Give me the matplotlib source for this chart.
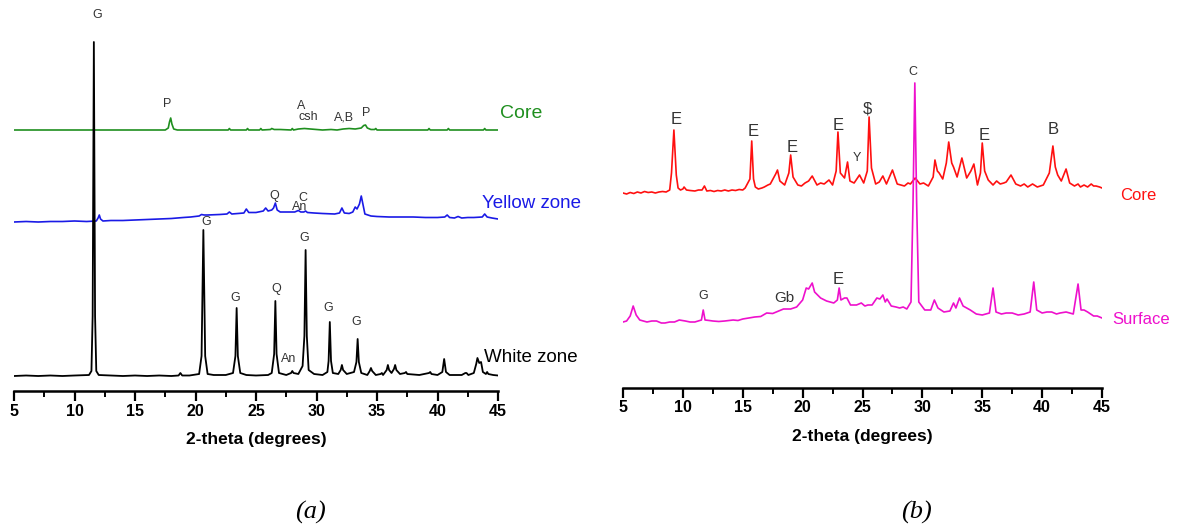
import numpy as np
import matplotlib.pyplot as plt
from matplotlib.ticker import MultipleLocator

plt.rcParams['font.family'] = ['Liberation Sans', 'DejaVu Sans']

# ---------------- panel (a) ----------------
# white zone (black), intensity above its own baseline
white_x = [5, 6, 7, 8, 9, 10, 11.2, 11.4, 11.5, 11.6, 11.7, 11.8, 12.0, 13, 14, 15, 16, 17, 18,
           18.6, 18.75, 18.9, 19.5, 20.3, 20.5, 20.65, 20.8, 21.0, 21.5, 22.5, 23.1, 23.3, 23.4,
           23.5, 23.7, 24.2, 25, 26, 26.3, 26.5, 26.6, 26.7, 26.9, 27.5, 27.9, 28.0, 28.1, 28.5,
           28.85, 29.0, 29.1, 29.2, 29.35, 29.8, 30.5, 30.9, 31.0, 31.1, 31.2, 31.35, 31.8, 32.0,
           32.1, 32.2, 32.5, 33.1, 33.3, 33.4, 33.5, 33.7, 34.2, 34.4, 34.5, 34.6, 34.9, 35.3,
           35.4, 35.5, 35.8, 35.9, 36.0, 36.2, 36.4, 36.5, 36.6, 36.9, 37.3, 37.4, 37.5, 38.5,
           39.3, 39.4, 39.5, 40.0, 40.4, 40.55, 40.7, 41.0, 42.0, 42.3, 42.4, 42.55, 43.0, 43.2,
           43.3, 43.45, 43.6, 43.75, 44.0, 44.1, 44.2, 44.6, 45]
white_y = [0, 0.5, 0, 0.5, 0, 0.5, 1, 5, 60, 334, 60, 5, 1, 0.5, 0, 0.5, 0, 0.5, 0,
           0.5, 3, 0.5, 0.5, 2, 20, 146, 20, 2, 1, 1, 3, 20, 68,
           20, 3, 1, 0.5, 1, 3, 22, 75, 22, 3, 1, 3, 5, 3, 2,
           10, 40, 126, 40, 6, 2, 1, 4, 15, 54, 15, 3, 2, 6,
           11, 6, 2, 4, 14, 37, 14, 3, 1, 5, 8, 5, 1, 2,
           3, 1, 6, 11, 6, 3, 7, 11, 6, 2, 3, 4, 2, 1,
           3, 4, 2, 1, 4, 17, 4, 1, 1, 3, 3, 1, 3, 12,
           18, 13, 14, 4, 2, 4, 2, 1, 0.5]

# core (green)
core_a_x = [5, 8, 11.5, 11.6, 11.7, 15, 17.5, 17.75, 17.85, 17.95, 18.05, 18.2, 18.5, 20.5,
            22.7, 22.8, 22.9, 24.2, 24.3, 24.4, 25.3, 25.4, 25.5, 26.2, 26.3, 26.5, 27.0, 27.9,
            28.0, 28.1, 28.5, 29.0, 29.5, 30.0, 30.5, 31.2, 31.7, 32.2, 32.7, 33.2, 33.7,
            33.9, 34.05, 34.2, 34.5, 34.8, 34.9, 35.0, 37, 39.2, 39.3, 39.4, 40.8, 40.9, 41.0,
            43.8, 43.9, 44.0, 45]
core_a_y = [0, 0, 0, 0.5, 0, 0, 0, 2, 8, 12, 6, 1, 0, 0,
            0, 1.5, 0, 0, 1.5, 0, 0, 1.5, 0, 0.5, 1.5, 0.5, 0.5, 0,
            1.5, 0, 1, 1.5, 1, 0.5, 0, 0.5, 0, 1, 1.5, 1, 2,
            4.5, 5, 2, 0.5, 0.5, 1.5, 0, 0, 0, 1.5, 0, 0, 1.5, 0,
            0, 1.5, 0, 0]

# yellow zone (blue)
yellow_x = [5, 6, 7, 8, 9, 10, 11, 11.8, 11.95, 12.05, 12.15, 12.35, 13, 14, 15, 16, 17, 18,
            19, 19.6, 20.3, 20.5, 20.7, 21, 22, 22.6, 22.8, 23.0, 23.5, 24.0, 24.2, 24.4, 25.0,
            25.6, 25.8, 26.0, 26.3, 26.45, 26.6, 26.75, 27.0, 27.5, 28.2, 28.5, 28.7, 28.95,
            29.1, 29.25, 29.8, 30.5, 31.5, 31.9, 32.1, 32.3, 32.7, 33.0, 33.2, 33.35, 33.55,
            33.7, 33.85, 34.0, 34.5, 35.0, 36.0, 37.0, 38.0, 39.0, 40.0, 40.6, 40.8, 41.0, 41.4,
            41.7, 42.0, 42.5, 43.0, 43.7, 43.9, 44.1, 44.5, 45]
yellow_y = [0, 0.5, 0, 0.5, 0.5, 1, 0.5, 1, 4, 7, 3, 1, 1.5, 1.5, 2, 2.5, 3, 3.5,
            4.5, 5, 6, 7.5, 7, 7, 7.5, 8, 10, 8, 8.5, 9, 13, 9.5, 9.5,
            11, 14, 11, 12, 14, 19, 12, 10, 10, 10, 11.5, 10, 10,
            11, 9.5, 9, 8.5, 8, 9, 14, 9, 8.5, 10, 15, 13, 18,
            26, 17, 8, 6, 5.5, 5, 5, 5, 4.5, 4.5, 5, 7, 4.5, 4,
            5.5, 4, 4.5, 4.5, 5, 8, 5, 4, 3]

white_off, core_a_off, yellow_off = 15, 261, 169

labels_a = [  # (x, y, text, size)
    (11.9, 376, 'G', 9), (17.7, 287, 'P', 9), (28.7, 285, 'A', 9), (29.3, 274, 'csh', 9),
    (32.3, 274, 'A,B', 9), (34.1, 278, 'P', 9), (26.5, 195, 'Q', 9), (28.9, 193, 'C', 9),
    (28.6, 184, 'An', 9), (20.9, 169, 'G', 9), (29.0, 153, 'G', 9), (23.3, 93, 'G', 9),
    (26.65, 102, 'Q', 9), (27.7, 32, 'An', 9), (31.0, 83, 'G', 9), (33.3, 69, 'G', 9),
]

# ---------------- panel (b) ----------------
core_b_x = [5, 5.3, 5.6, 5.9, 6.2, 6.5, 6.8, 7.1, 7.4, 7.7, 8.0, 8.3, 8.6, 8.9, 9.05, 9.25, 9.45,
            9.6, 9.8, 10.0, 10.1, 10.3, 10.6, 11.0, 11.3, 11.6, 11.8, 12.0, 12.3, 12.6, 12.9, 13.2,
            13.5, 13.8, 14.1, 14.4, 14.7, 15.0, 15.2, 15.6, 15.75, 15.9, 16.05, 16.3,
            16.6, 16.8, 17.1, 17.3, 17.75, 17.9, 18.1, 18.5, 18.85, 19.0, 19.2, 19.6, 19.9, 20.2,
            20.5, 20.8, 21.2, 21.5, 21.8, 22.2, 22.5, 22.8, 22.95, 23.15, 23.5, 23.75, 23.95, 24.3,
            24.75, 25.1, 25.4, 25.55, 25.75, 26.1, 26.4, 26.7, 27.0, 27.5, 27.9, 28.2, 28.5, 28.8,
            29.0, 29.4, 29.8, 30.1, 30.5, 30.9, 31.05, 31.25, 31.4, 31.7, 32.0, 32.2, 32.45, 32.6,
            32.9, 33.3, 33.7, 34.05, 34.3, 34.6, 34.85, 35.0, 35.2, 35.5, 35.9, 36.2, 36.5, 36.8,
            37.0, 37.4, 37.8, 38.2, 38.5, 38.8, 39.2, 39.6, 40.1, 40.6, 40.9, 41.1, 41.3, 41.6,
            42.0, 42.3, 42.7, 43.0, 43.2, 43.5, 43.8, 44.1, 44.3, 44.5, 44.8, 45]
core_b_y = [0, -1, 0.5, -0.5, 1, 0, 1.5, 0.5, 1, 0, 1, 1.5, 1, 3, 20, 63, 18,
            5, 3, 4, 6, 3, 2.5, 2, 3, 3, 7, 2, 2.5, 1.5, 2.5, 2,
            3, 2, 3, 2.5, 3.5, 3, 5, 14, 52, 14, 6, 4,
            5, 6, 8, 9, 19, 23, 12, 8, 20, 38, 16, 8, 7, 10,
            12, 17, 8, 10, 9, 13, 8, 22, 61, 20, 15, 31, 12, 10,
            18, 10, 22, 76, 25, 9, 11, 17, 9, 23, 9, 8, 7, 10,
            9, 15, 9, 10, 7, 16, 33, 22, 20, 14, 30, 51, 30, 26,
            16, 35, 15, 22, 29, 8, 20, 50, 22, 13, 8, 12, 9, 10,
            11, 18, 9, 7, 9, 6, 9, 6, 8, 20, 47, 26, 18, 12,
            24, 10, 7, 9, 6, 8, 6, 9, 7, 7, 6, 5]

surf_x = [5, 5.3, 5.6, 5.85, 6.1, 6.4, 7.0, 7.4, 7.8, 8.2, 8.5, 8.9, 9.3, 9.7, 10.2, 10.6, 11.0,
          11.55, 11.7, 11.85, 12.2, 12.5, 13.0, 13.5, 14.2, 14.6, 15, 15.5, 16, 16.5, 17, 17.5,
          18, 18.4, 19.0, 19.5, 20.0, 20.3, 20.5, 20.8, 21.0, 21.5,
          22.0, 22.6, 22.9, 23.05, 23.2, 23.5, 23.7, 24.0, 24.5, 24.9, 25.2, 25.45, 25.8, 26.2,
          26.45, 26.7, 26.9, 27.05, 27.4, 27.8, 28.1, 28.4, 28.7, 29.05, 29.22, 29.37, 29.52,
          29.7, 30.2, 30.7, 31.0, 31.3, 31.8, 32.3, 32.6, 32.8, 33.1, 33.4, 34.0, 34.5, 35.0,
          35.3, 35.6, 35.9, 36.15, 36.6, 37.0, 37.5, 38.0, 38.5, 39.0, 39.3, 39.55, 40.0, 40.4,
          40.8, 41.2, 41.5, 42.0, 42.6, 43.0, 43.25, 43.5, 43.8, 44.3, 44.6, 45.0]
surf_y = [0, 1, 6, 16, 7, 2, 0, 1, 1, -1, -1, 0, 0, 2, 1, 0, 0,
          2, 12, 2, 1.5, 1, 0.5, 1, 2, 1.5, 3, 4, 5, 5.5, 9, 8.5,
          11, 13, 13, 15, 22, 34, 33, 39, 30, 24,
          21, 19, 22, 34, 22, 24, 24, 17, 17, 19, 16, 17, 17, 24,
          23, 27, 20, 23, 16, 15, 14, 15, 13, 20, 120, 239, 120,
          20, 12, 12, 22, 14, 10, 11, 19, 14, 24, 16, 12, 8, 7,
          8, 9, 34, 10, 8, 9, 9, 7, 8, 10, 40, 12, 9, 10,
          10, 8, 9, 10, 8, 38, 12, 12, 10, 6, 6, 4]

core_b_off, surf_off = 195, 66

labels_b = [
    (9.42, 269, 'E', 12), (15.85, 257, 'E', 12), (19.1, 240, 'E', 12), (22.95, 263, 'E', 12),
    (24.5, 230, 'Y', 9), (25.45, 279, '$', 12), (29.2, 316, 'C', 9), (32.2, 258, 'B', 12),
    (35.2, 253, 'E', 12), (40.9, 258, 'B', 12), (11.7, 92, 'G', 9), (18.5, 90, 'Gb', 11),
    (23.0, 109, 'E', 12),
]

W, H = 1187, 531
fig = plt.figure(figsize=(W / 100, H / 100), dpi=100)
ax1 = fig.add_axes([14 / W, (H - 391) / H, 484 / W, 391 / H])
ax2 = fig.add_axes([623 / W, (H - 388) / H, 479 / W, 388 / H])

ax1.plot(core_a_x, np.array(core_a_y) + core_a_off, color='#1f8f1f', lw=1.2)
ax1.plot(yellow_x, np.array(yellow_y) + yellow_off, color='#1a1ae6', lw=1.2)
ax1.plot(white_x, np.array(white_y) + white_off, color='black', lw=1.3)
for x, y, t, s in labels_a:
    ax1.text(x, y, t, fontsize=s, color='#333333', ha='center', va='center')
ax1.text(45.2, 278, 'Core', color='#1f8f1f', fontsize=14, va='center', clip_on=False)
ax1.text(43.7, 187, 'Yellow zone', color='#1a1ae6', fontsize=13.5, va='center', clip_on=False)
ax1.text(43.85, 33, 'White zone', color='black', fontsize=13.5, va='center', clip_on=False)
ax1.set_ylim(0, 391)

ax2.plot(core_b_x, np.array(core_b_y) + core_b_off, color='#ff1010', lw=1.2)
ax2.plot(surf_x, np.array(surf_y) + surf_off, color='#ee10cc', lw=1.2)
for x, y, t, s in labels_b:
    ax2.text(x, y, t, fontsize=s, color='#333333', ha='center', va='center')
ax2.text(46.5, 192, 'Core', color='#ff1010', fontsize=12, va='center', clip_on=False)
ax2.text(45.9, 69, 'Surface', color='#ee10cc', fontsize=12, va='center', clip_on=False)
ax2.set_ylim(0, 388)

for ax in (ax1, ax2):
    ax.set_xlim(5, 45)
    ax.patch.set_visible(False)
    for s in ('top', 'right', 'left'):
        ax.spines[s].set_visible(False)
    ax.spines['bottom'].set_linewidth(1.8)
    ax.set_yticks([])
    ax.xaxis.set_major_locator(MultipleLocator(5))
    ax.xaxis.set_minor_locator(MultipleLocator(2.5))
    ax.tick_params(axis='x', which='major', direction='out', length=7, width=1.6,
                   labelsize=11.5, pad=2)
    ax.tick_params(axis='x', which='minor', direction='out', length=4, width=1.4)
    for lab in ax.get_xticklabels():
        lab.set_fontweight('bold')
    ax.set_xlabel('2-theta (degrees)', fontsize=12.5, fontweight='bold', labelpad=10)

fig.text(310 / W, 1 - 512 / H, '(a)', fontsize=19, style='italic',
         family='Liberation Serif', ha='center', va='center')
fig.text(916 / W, 1 - 512 / H, '(b)', fontsize=19, style='italic',
         family='Liberation Serif', ha='center', va='center')

plt.savefig('out.png', dpi=100)
